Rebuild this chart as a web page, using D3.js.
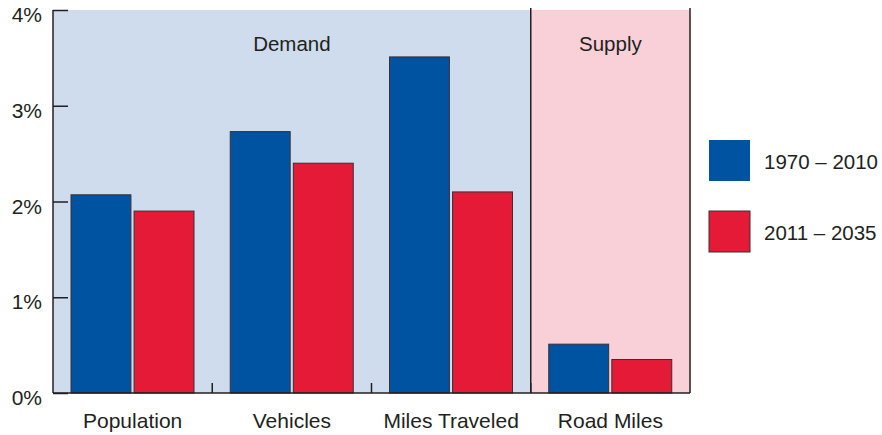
<!DOCTYPE html>
<html><head><meta charset="utf-8">
<script src="https://cdn.jsdelivr.net/npm/d3@7/dist/d3.min.js"></script>
<style>body{margin:0;background:#fff}text{font-family:"Liberation Sans",Arial,sans-serif;fill:#231f20}</style>
</head><body><svg id="c" width="882" height="435"></svg>
<script>
const categories = ["Population","Vehicles","Miles Traveled","Road Miles"];
const series = ["1970 – 2010","2011 – 2035"];
const values1970 = [2.07, 2.73, 3.51, 0.51];
const values2011 = [1.90, 2.40, 2.10, 0.35];
const yTicks = [0,1,2,3,4];
const regions = [{label:"Demand", from:0, to:3},{label:"Supply", from:3, to:4}];

const colors = ["#0053a1","#e41a37"];
const svg = d3.select("#c");
const L = 53, R = 690, T = 10, B = 393;
const x = d3.scaleBand().domain(categories).range([L,R]).paddingInner(0).paddingOuter(0);
const x1 = d3.scaleBand().domain(series).range([18, 141]).paddingInner(0.05);
const y = d3.scaleLinear().domain([0,4]).range([B,T]);

// region backgrounds
const regFill = {Demand:"#cedced", Supply:"#f9d0d8"};
regions.forEach(r=>{
  const x0 = x(categories[r.from]);
  const xe = r.to < categories.length ? x(categories[r.to]) : R;
  svg.append("rect").attr("x",x0).attr("y",T).attr("width",xe-x0).attr("height",B-T).attr("fill",regFill[r.label]);
  svg.append("text").attr("x",(x0+xe)/2).attr("y",51).attr("text-anchor","middle").attr("font-size",20.5).text(r.label);
});

// bars
const g = svg.append("g");
categories.forEach((c,i)=>{
  [values1970[i], values2011[i]].forEach((v,j)=>{
    g.append("rect").attr("x",x(c)+x1(series[j])).attr("y",y(v))
     .attr("width",x1.bandwidth()).attr("height",B-y(v))
     .attr("fill",colors[j]).attr("stroke","#3a2f35").attr("stroke-width",1);
  });
});

// region dividers
svg.append("line").attr("x1",x("Road Miles")).attr("x2",x("Road Miles")).attr("y1",8).attr("y2",B).attr("stroke","#231f20").attr("stroke-width",1.5);
svg.append("line").attr("x1",R).attr("x2",R).attr("y1",8).attr("y2",B).attr("stroke","#231f20").attr("stroke-width",1.5);

// y axis
const yAxis = d3.axisRight(y).tickValues(yTicks).tickSize(15).tickFormat("");
const ya = svg.append("g").attr("transform",`translate(${L},0)`).call(yAxis);
ya.select(".domain").attr("stroke","#231f20").attr("stroke-width",1.5).attr("d",`M0,${T}V${B}`);
ya.selectAll(".tick line").attr("stroke","#231f20").attr("stroke-width",1.5);
yTicks.forEach(t=>{
  svg.append("text").attr("x",42).attr("y",y(t)+12).attr("text-anchor","end").attr("font-size",21).text(t+"%");
});

// x axis
svg.append("line").attr("x1",L).attr("x2",R).attr("y1",B).attr("y2",B).attr("stroke","#231f20").attr("stroke-width",1.5);
categories.slice(1).forEach(c=>{
  svg.append("line").attr("x1",x(c)).attr("x2",x(c)).attr("y1",B).attr("y2",B-10).attr("stroke","#231f20").attr("stroke-width",1.5);
});
categories.forEach(c=>{
  svg.append("text").attr("x",x(c)+x.bandwidth()/2).attr("y",428).attr("text-anchor","middle").attr("font-size",21).text(c);
});

// legend
series.forEach((s,j)=>{
  const ly = 140 + j*71;
  svg.append("rect").attr("x",709).attr("y",ly).attr("width",41).attr("height",41).attr("fill",colors[j])
    .attr("stroke", j===1?"#3a2f35":"none").attr("stroke-width",1);
  svg.append("text").attr("x",764).attr("y",ly+29).attr("font-size",20.5).text(s);
});
</script></body></html>
